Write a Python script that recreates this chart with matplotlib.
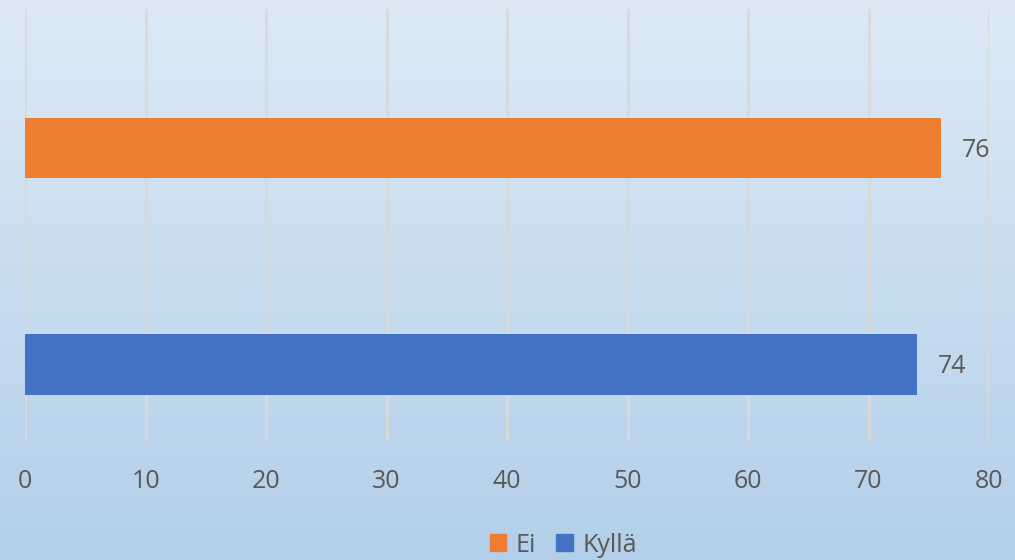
import numpy as np
import matplotlib.pyplot as plt

plt.rcParams['font.family'] = ['Open Sans', 'DejaVu Sans']

series = ["Kyllä", "Ei"]
values = [74, 76]
colors = ["#4472c4", "#ed7d31"]
xticks = [0, 10, 20, 30, 40, 50, 60, 70, 80]

W, H = 1015, 560
fig = plt.figure(figsize=(W / 100, H / 100), dpi=100)

# gradient background
bg = fig.add_axes([0, 0, 1, 1], zorder=-10)
top = np.array([0.867, 0.918, 0.965])
bot = np.array([0.702, 0.812, 0.914])
t = np.linspace(0, 1, 256)[:, None]
grad = top * (1 - t) + bot * t
bg.imshow(grad[:, None, :].repeat(2, axis=1), aspect="auto", extent=[0, 1, 0, 1])
bg.axis("off")

ax = fig.add_axes([25 / W, (H - 441) / H, (989 - 25) / W, (441 - 9) / H])
ax.patch.set_alpha(0)
ypos = np.arange(len(series))
ax.barh(ypos, values, height=0.28, color=colors, zorder=3)
for y, v in zip(ypos, values):
    ax.text(v + 1.75, y - 0.01, str(v), va="center", ha="left", fontsize=18, color="#595959")

ax.set_xlim(0, 80)
ax.set_ylim(-0.353, 1.642)
ax.set_xticks(xticks)
ax.set_yticks([])
ax.grid(axis="x", color="#d9d9d9", linewidth=2, zorder=0)
for s in ax.spines.values():
    s.set_visible(False)
ax.tick_params(axis="x", length=0, pad=20, labelsize=18, labelcolor="#595959")

handles = [plt.Rectangle((0, 0), 1, 1, color=colors[1]), plt.Rectangle((0, 0), 1, 1, color=colors[0])]
fig.legend(handles, ["Ei", "Kyllä"], loc="center", bbox_to_anchor=(0.555, 1 - 545 / H), ncol=2,
           frameon=False, fontsize=18, labelcolor="#595959", handlelength=0.65, handleheight=0.65,
           handletextpad=0.4, columnspacing=0.8, borderpad=0)

fig.savefig("out.png", dpi=100)
